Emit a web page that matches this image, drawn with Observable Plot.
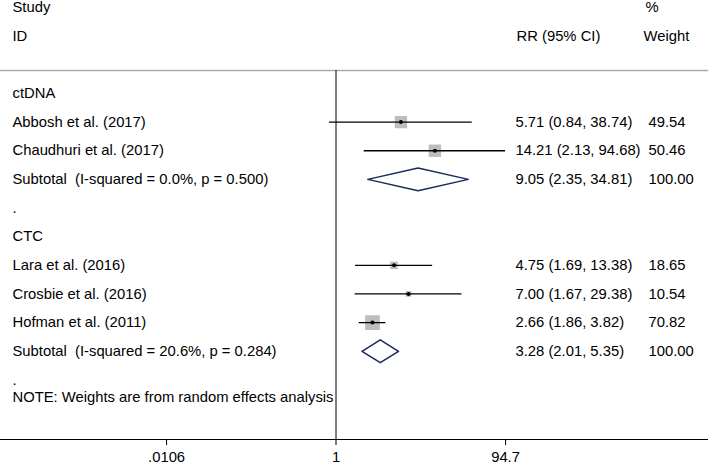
<!DOCTYPE html>
<html>
<head>
<meta charset="utf-8">
<script src="https://cdn.jsdelivr.net/npm/d3@7"></script>
<script src="https://cdn.jsdelivr.net/npm/@observablehq/plot@0.6"></script>
<style>
  body { margin: 0; background: #fff; }
  #chart text { white-space: pre; }
</style>
</head>
<body>
<div id="chart"></div>
<script>
// ---- data ----
const groupNames = ["ctDNA", "CTC"];
const studies = ["Abbosh et al. (2017)", "Chaudhuri et al. (2017)", "Lara et al. (2016)", "Crosbie et al. (2016)", "Hofman et al. (2011)"];
const studyGroup = ["ctDNA", "ctDNA", "CTC", "CTC", "CTC"];
const rr = [5.71, 14.21, 4.75, 7.00, 2.66];
const lower = [0.84, 2.13, 1.69, 1.67, 1.86];
const upper = [38.74, 94.68, 13.38, 29.38, 3.82];
const weight = [49.54, 50.46, 18.65, 10.54, 70.82];
const subLabels = ["Subtotal  (I-squared = 0.0%, p = 0.500)", "Subtotal  (I-squared = 20.6%, p = 0.284)"];
const subRR = [9.05, 3.28];
const subLower = [2.35, 2.01];
const subUpper = [34.81, 5.35];
const subWeight = [100, 100];
const xTicks = [0.0106, 1, 94.7];
const xTickLabels = [".0106", "1", "94.7"];
const note = "NOTE: Weights are from random effects analysis";

// ---- build rows ----
const f2 = v => v.toFixed(2);
const labelRows = [];
const studyRows = [];
const subRows = [];
let row = 0;
groupNames.forEach((g, gi) => {
  labelRows.push({row, text: g});
  row++;
  studies.forEach((s, i) => {
    if (studyGroup[i] !== g) return;
    studyRows.push({row, name: s, est: rr[i], lo: lower[i], hi: upper[i], w: weight[i]});
    labelRows.push({row, text: s});
    row++;
  });
  subRows.push({row, name: subLabels[gi], est: subRR[gi], lo: subLower[gi], hi: subUpper[gi], w: subWeight[gi], g});
  labelRows.push({row, text: subLabels[gi].replace("  ", " \u00a0")});
  row++;
  labelRows.push({row, text: "."});
  row++;
});
const lastRow = row - 1;
const numRows = [...studyRows, ...subRows].map(d => ({row: d.row, ci: `${f2(d.est)} (${f2(d.lo)}, ${f2(d.hi)})`, w: f2(d.w)}));
const diamonds = subRows.flatMap(d => [
  {g: d.g, x: d.lo, y: d.row},
  {g: d.g, x: d.est, y: d.row - 0.4},
  {g: d.g, x: d.hi, y: d.row},
  {g: d.g, x: d.est, y: d.row + 0.4},
  {g: d.g, x: d.lo, y: d.row}
]);
const tickLabel = d => {
  const i = xTicks.findIndex(t => Math.abs(Math.log(t / d)) < 1e-6);
  return i >= 0 ? xTickLabels[i] : "";
};

const headTop = -3, headBottom = -2, sepRow = -0.8, axisRow = lastRow + 2.08, noteRow = lastRow + 0.6;
const font = "'Liberation Sans', Arial, Helvetica, sans-serif";
const fs = 14.8;

const chart = Plot.plot({
  width: 708,
  height: 465,
  marginLeft: 0,
  marginRight: 0,
  marginTop: 7,
  marginBottom: 26,
  style: {fontFamily: font, fontSize: fs + "px", color: "#000", background: "#fff"},
  x: {type: "log", domain: [10 ** -3.9103, 10 ** 4.3415], axis: null},
  y: {type: "linear", domain: [headTop, axisRow], reverse: true, axis: null, clamp: false},
  r: {type: "sqrt", domain: [0, 100], range: [0, 9.88]},
  marks: [
    Plot.ruleY([sepRow], {stroke: "#aaaaaa", strokeWidth: 1.3}),
    Plot.ruleY([axisRow], {stroke: "#000", strokeWidth: 1.1}),
    Plot.ruleX([1], {y1: sepRow, y2: axisRow, stroke: "#000", strokeWidth: 1}),
    Plot.ruleX(xTicks, {x: d => d, y1: axisRow, y2: axisRow + 0.21, stroke: "#000", strokeWidth: 1}),
    Plot.text(xTicks, {x: d => d, y: axisRow, text: tickLabel, dy: 18, fontSize: fs, fill: "#000"}),
    // squares
    Plot.dot(studyRows, {x: "est", y: "row", r: "w", symbol: "square", fill: "#bdbdbd", stroke: "none"}),
    // CI lines
    Plot.ruleY(studyRows, {y: "row", x1: "lo", x2: "hi", stroke: "#000", strokeWidth: 1.3}),
    // center dots
    Plot.dot(studyRows, {x: "est", y: "row", r: 2, fill: "#000", stroke: "none"}),
    // diamonds
    Plot.line(diamonds, {x: "x", y: "y", z: "g", stroke: "#1b2a5c", strokeWidth: 1.5, curve: "linear"}),
    // headers
    Plot.text(["Study"], {frameAnchor: "left", dx: 12, y: [headTop], textAnchor: "start", fontSize: fs, fill: "#000"}),
    Plot.text(["ID"], {frameAnchor: "left", dx: 12, y: [headBottom], textAnchor: "start", fontSize: fs, fill: "#000"}),
    Plot.text(["RR (95% CI)"], {frameAnchor: "left", dx: 516, y: [headBottom], textAnchor: "start", fontSize: fs, fill: "#000"}),
    Plot.text(["%"], {frameAnchor: "left", dx: 645, y: [headTop], textAnchor: "start", fontSize: fs, fill: "#000"}),
    Plot.text(["Weight"], {frameAnchor: "left", dx: 643, y: [headBottom], textAnchor: "start", fontSize: fs, fill: "#000"}),
    // left labels
    Plot.text(labelRows, {frameAnchor: "left", dx: 12, y: "row", text: "text", textAnchor: "start", fontSize: fs, fill: "#000"}),
    // numbers
    Plot.text(numRows, {frameAnchor: "left", dx: 515, y: "row", text: "ci", textAnchor: "start", fontSize: fs, fill: "#000"}),
    Plot.text(numRows, {frameAnchor: "left", dx: 648, y: "row", text: "w", textAnchor: "start", fontSize: fs, fill: "#000"}),
    // note
    Plot.text([note], {frameAnchor: "left", dx: 12, y: [noteRow], textAnchor: "start", fontSize: fs, fill: "#000"})
  ]
});
document.getElementById("chart").appendChild(chart);
</script>
</body>
</html>
